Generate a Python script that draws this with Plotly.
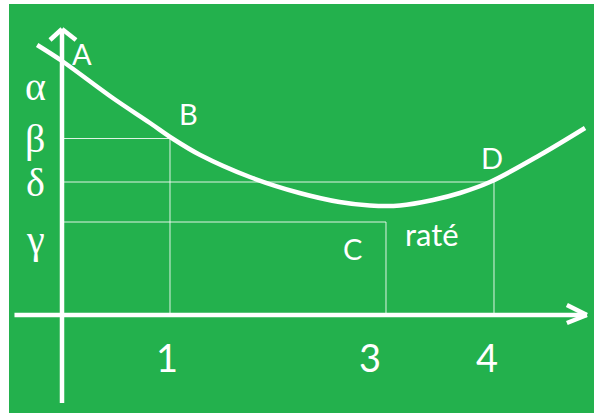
import plotly.graph_objects as go

# Curve sampled along its path (x in units, y in level units)
curve_x = [-0.23, 0.0, 0.47, 0.815, 1.03, 1.28, 1.74, 2.20, 2.57, 2.85,
           3.13, 3.435, 3.685, 3.963, 4.426, 4.843]
curve_y = [5.40, 5.08, 4.34, 3.84, 3.52, 3.20, 2.76, 2.44, 2.26, 2.19,
           2.19, 2.30, 2.44, 2.66, 3.20, 3.74]

# Named levels on the vertical axis
level_names = ["α", "β", "δ", "γ"]
level_values = [5.08, 3.53, 2.66, 1.86]

# Marked points: name, x, level
point_names = ["B", "C", "D"]
point_x = [1, 3, 4]
point_y = [3.53, 1.86, 2.66]

tick_labels = ["1", "3", "4"]
tick_values = [1, 3, 4]

GREEN = "#23b14d"
WHITE = "white"
HAND = "Comic Sans MS, Lato, sans-serif"

x_range = [-0.4907, 4.926]
y_range = [-1.96, 6.22]
px_x = 585 / (x_range[1] - x_range[0])   # pixels per x unit
px_y = 409 / (y_range[1] - y_range[0])   # pixels per y unit

fig = go.Figure()

fig.add_trace(go.Scatter(x=curve_x, y=curve_y, mode="lines",
                         line=dict(color=WHITE, width=4.5, shape="spline", smoothing=1.0),
                         hoverinfo="skip", showlegend=False))

shapes = []
thin = dict(color="rgba(255,255,255,0.85)", width=1)
for px, py in zip(point_x, point_y):
    shapes.append(dict(type="line", xref="x", yref="y", x0=0, x1=px, y0=py, y1=py, line=thin, layer="below"))
    shapes.append(dict(type="line", xref="x", yref="y", x0=px, x1=px, y0=0, y1=py, line=thin, layer="below"))

axis = dict(color=WHITE, width=4.5)
h_start, h_end = -0.44, 4.86
v_start, v_end = -1.76, 5.72
shapes.append(dict(type="line", xref="x", yref="y", x0=h_start, x1=h_end, y0=0, y1=0, line=axis))
shapes.append(dict(type="line", xref="x", yref="y", x0=0, x1=0, y0=v_start, y1=v_end, line=axis))
# arrow heads
for dy in (10, -8):
    shapes.append(dict(type="line", xref="x", yref="y", x0=h_end, y0=0,
                       x1=h_end - 20 / px_x, y1=dy / px_y, line=axis))
for dx in (-12, 14):
    shapes.append(dict(type="line", xref="x", yref="y", x0=0, y0=v_end,
                       x1=dx / px_x, y1=v_end - 11 / px_y, line=axis))

annotations = []
greek_shift = [-25, 0, 0, -17]
for name, val, sh in zip(level_names, level_values, greek_shift):
    annotations.append(dict(x=-0.25, y=val, yshift=sh, text=name, showarrow=False,
                            xanchor="center", yanchor="middle",
                            font=dict(family="Liberation Serif, serif", size=40, color=WHITE)))

annotations.append(dict(x=0, y=level_values[0], xshift=20, yshift=8, text="A", showarrow=False,
                        font=dict(family=HAND, size=29, color=WHITE)))
label_shift = [(19, 25), (-33, -26), (-2, 25)]
for name, px, py, (sx, sy) in zip(point_names, point_x, point_y, label_shift):
    annotations.append(dict(x=px, y=py, xshift=sx, yshift=sy, text=name, showarrow=False,
                            font=dict(family=HAND, size=29, color=WHITE)))
annotations.append(dict(x=point_x[1], y=point_y[1], xshift=46, yshift=-12, text="raté",
                        showarrow=False, font=dict(family=HAND, size=31, color=WHITE)))

tick_shift = [-3, -16, -7]
for t, v, sx in zip(tick_labels, tick_values, tick_shift):
    annotations.append(dict(x=v, y=0, xshift=sx, yshift=-42, text=t, showarrow=False,
                            font=dict(family=HAND, size=38, color=WHITE)))

fig.update_layout(
    width=594, height=413,
    margin=dict(l=9, r=0, t=4, b=0),
    paper_bgcolor="white", plot_bgcolor=GREEN,
    xaxis=dict(range=x_range, visible=False, fixedrange=True),
    yaxis=dict(range=y_range, visible=False, fixedrange=True),
    shapes=shapes, annotations=annotations, showlegend=False,
)

fig.write_html("out.html", config={"displayModeBar": False})
